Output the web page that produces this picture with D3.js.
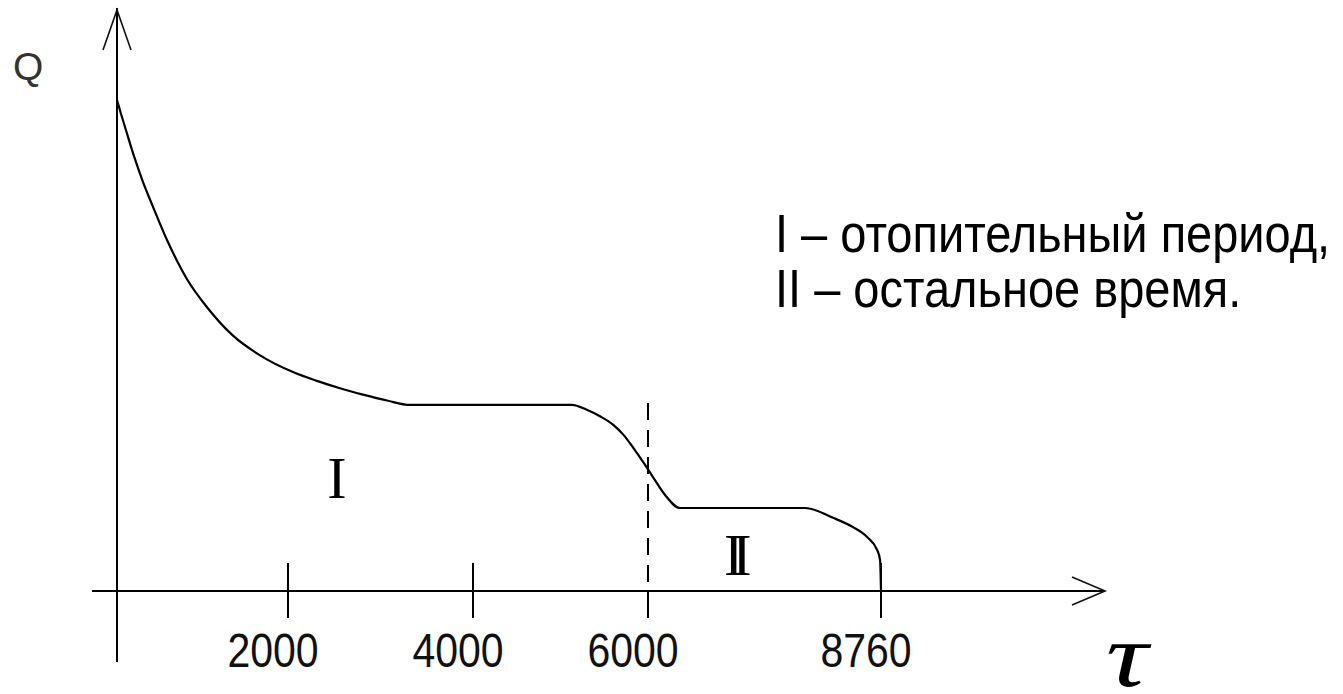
<!DOCTYPE html>
<meta charset="utf-8">
<style>

body { margin: 0; background: #fff; }

.axis-line { stroke: #000; stroke-width: 2; fill: none; }
.arrow { stroke: #111; stroke-width: 1.6; fill: none; }
.tick { stroke: #000; stroke-width: 2; }
.boundary { stroke: #000; stroke-width: 2; stroke-dasharray: 17 10; }
.curve { fill: none; stroke: #000; stroke-width: 2.2; stroke-linejoin: round; }
.tick-label { font-family: "Liberation Sans", Arial, sans-serif; font-size: 41px; fill: #111; }
.legend { font-family: "Liberation Sans", Arial, sans-serif; font-size: 47px; fill: #000; }
.zone { font-family: "Liberation Serif", "Times New Roman", serif; font-size: 58px; fill: #000; }

</style>
<svg width="1343" height="694"></svg>
<script src="https://cdn.jsdelivr.net/npm/d3@7"></script>
<script>

// annual heat load duration curve (Q in relative units)
var hours = [0, 50, 120, 200, 300, 420, 585, 819, 1053, 1357, 1673, 2054, 2313, 2562, 2811, 3070, 3319,
             4200, 5131, 5300, 5450, 5600, 5720, 5830, 5943, 6059, 6200, 6379,
             7100, 7860, 8192, 8429, 8595, 8713, 8749, 8760];
var load  = [100, 97, 93, 88.5, 83.5, 78.3, 71.5, 63.5, 57.8, 52, 48, 44.6, 42.8, 41.3, 40, 38.8, 37.9,
             37.9, 37.9, 36.9, 35.6, 33.9, 31.8, 29.2, 26.3, 23.2, 19.6, 16.9,
             16.9, 16.9, 14.9, 13.0, 11.0, 8.4, 6.3, 0];

var tickValues = [2000, 4000, 6000, 8760];
var tickLabels = ["2000", "4000", "6000", "8760"];
var heatingEnd = 6000;

var zoneNames = ["I", "II"];
var zoneAt = [2530, 6940];     // hours where zone labels sit
var zoneQ  = [19, 3.3];

var legendLines = ["I \u2013 отопительный период,", "II \u2013 остальное время."];

var svg = d3.select("svg");

// hand-drawn axis: ticks are not evenly spaced, so the scale is piecewise
var x = d3.scaleLinear()
    .domain([0, 2000, 4000, 6000, 8760])
    .range([117, 288, 473, 648, 881]);

var y = d3.scaleLinear()
    .domain([0, 100])
    .range([591, 100]);

var x0 = x(0), y0 = y(0);

// axes
svg.append("line").attr("class", "axis-line")
    .attr("x1", x0 - 25).attr("y1", y0).attr("x2", 1105).attr("y2", y0);
svg.append("line").attr("class", "axis-line")
    .attr("x1", x0).attr("y1", y0 + 71).attr("x2", x0).attr("y2", 8);

svg.append("path").attr("class", "arrow")
    .attr("d", "M1072," + (y0 - 14) + "L1105," + y0 + "L1072," + (y0 + 14));
svg.append("path").attr("class", "arrow")
    .attr("d", "M" + (x0 - 14) + ",50L" + x0 + ",10L" + (x0 + 14) + ",50");

// ticks
svg.append("g").selectAll("line")
    .data(tickValues)
  .enter().append("line")
    .attr("class", "tick")
    .attr("x1", function(d) { return x(d); })
    .attr("x2", function(d) { return x(d); })
    .attr("y1", function(d) { return d === heatingEnd ? y0 : y0 - 28; })
    .attr("y2", y0 + 27);

svg.append("g").selectAll("text")
    .data(tickLabels)
  .enter().append("text")
    .attr("class", "tick-label")
    .attr("text-anchor", "middle")
    .attr("transform", function(d, i) { return "translate(" + (x(tickValues[i]) - 15) + ",667) scale(1,1.19)"; })
    .text(function(d) { return d; });

// end of heating season
svg.append("line")
    .attr("class", "boundary")
    .attr("x1", x(heatingEnd)).attr("x2", x(heatingEnd))
    .attr("y1", y(38.3)).attr("y2", y0);

// the curve
var line = d3.line()
    .x(function(d, i) { return x(hours[i]); })
    .y(function(d) { return y(d); })
    .curve(d3.curveMonotoneX);

svg.append("path")
    .datum(load)
    .attr("class", "curve")
    .attr("d", line);

// zone labels
svg.append("g").selectAll("text")
    .data(zoneNames)
  .enter().append("text")
    .attr("class", "zone")
    .attr("text-anchor", "middle")
    .attr("letter-spacing", function(d) { return d.length > 1 ? "-11px" : null; })
    .attr("transform", function(d, i) { return "translate(" + (x(zoneAt[i]) + (d.length > 1 ? 5 : 0)) + "," + y(zoneQ[i]) + ") scale(1,1.02)"; })
    .text(function(d) { return d; });

// axis names
svg.append("text")
    .attr("x", 13).attr("y", 80)
    .style("font-family", "Liberation Sans, Arial, sans-serif")
    .style("font-size", "39px")
    .style("fill", "#333")
    .text("Q");

svg.append("text")
    .attr("transform", "translate(1106,686) scale(1.3,1)")
    .style("font-family", "Liberation Serif, serif")
    .style("font-style", "italic")
    .style("font-size", "90px")
    .text("τ");

// legend
svg.append("g").selectAll("text")
    .data(legendLines)
  .enter().append("text")
    .attr("class", "legend")
    .attr("transform", function(d, i) { return "translate(775," + (252 + i * 55) + ") scale(1,1.14)"; })
    .text(function(d) { return d; });

</script>
